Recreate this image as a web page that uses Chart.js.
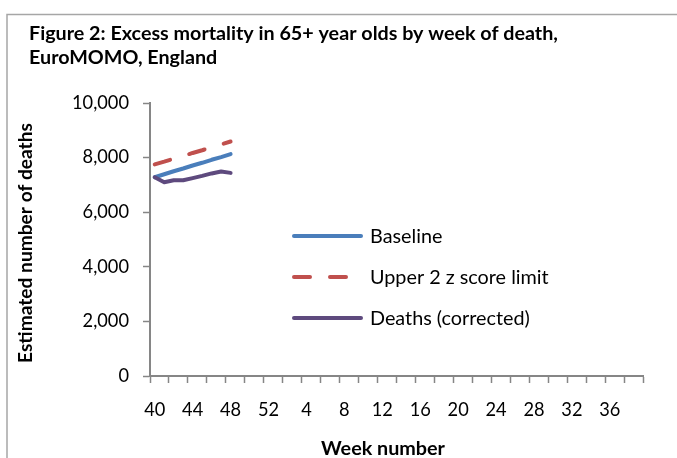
<!DOCTYPE html>
<html>
<head>
<meta charset="utf-8">
<script src="https://cdn.jsdelivr.net/npm/chart.js@4/dist/chart.umd.min.js"></script>
<style>
  html, body { margin: 0; padding: 0; background: #ffffff; }
  #wrap { width: 677px; height: 458px; }
</style>
</head>
<body>
<div id="wrap"><canvas id="c" width="677" height="458"></canvas></div>
<script>
// ---- Data ----
const weeks = [40,41,42,43,44,45,46,47,48,49,50,51,52,
  1,2,3,4,5,6,7,8,9,10,11,12,13,14,15,16,17,18,19,20,
  21,22,23,24,25,26,27,28,29,30,31,32,33,34,35,36,37,38,39];
const baseline = [7280, 7390, 7500, 7600, 7710, 7810, 7920, 8020, 8130];
const upperLimit = [7750, 7850, 7960, 8060, 8170, 8270, 8380, 8480, 8590];
const deaths = [7280, 7100, 7170, 7170, 7250, 7330, 7420, 7490, 7440];
const yTicks = [0, 2000, 4000, 6000, 8000, 10000];
const seriesNames = ['Baseline', 'Upper 2 z score limit', 'Deaths (corrected)'];
const titleLines = ['Figure 2: Excess mortality in 65+ year olds by week of death,', 'EuroMOMO, England'];
const xTitle = 'Week number';
const yTitle = 'Estimated number of deaths';

// ---- Styles ----
const FAM = 'Lato, "Open Sans", sans-serif';
const AX = '#868686';
const COLORS = ['#4A7EBB', '#C0504D', '#5E4A7E'];

const mctx = document.createElement('canvas').getContext('2d');
function fitSize(text, weight, target) {
  mctx.font = weight + ' 20px ' + FAM;
  const w = mctx.measureText(text).width;
  return 20 * target / w;
}
const tickSize = fitSize('10,000', 'normal', 57);
const titleSize = fitSize(titleLines[0], 'bold', 529);
const xTitleSize = fitSize(xTitle, 'bold', 124);
const yTitleSize = fitSize(yTitle, 'bold', 240);
const legendSize = fitSize(seriesNames[2], 'normal', 160);

const decor = {
  id: 'decor',
  beforeDraw(chart) {
    const ctx = chart.ctx;
    ctx.save();
    ctx.fillStyle = '#ffffff';
    ctx.fillRect(0, 0, chart.width, chart.height);
    ctx.strokeStyle = '#a6a6a6';
    ctx.lineWidth = 1.5;
    ctx.beginPath();
    ctx.moveTo(7, 460);
    ctx.lineTo(7, 14.5);
    ctx.lineTo(680, 14.5);
    ctx.stroke();
    ctx.restore();
  },
  afterDraw(chart) {
    const ctx = chart.ctx;
    const a = chart.chartArea;
    ctx.save();
    ctx.fillStyle = '#000';
    // main title
    ctx.textAlign = 'left';
    ctx.textBaseline = 'alphabetic';
    ctx.font = 'bold ' + titleSize + 'px ' + FAM;
    ctx.fillText(titleLines[0], 29, 40);
    ctx.fillText(titleLines[1], 29, 64);
    // x title
    ctx.textAlign = 'center';
    ctx.font = 'bold ' + xTitleSize + 'px ' + FAM;
    ctx.fillText(xTitle, 383, 455);
    // y title
    ctx.save();
    ctx.translate(26, 243);
    ctx.rotate(-Math.PI / 2);
    ctx.textBaseline = 'middle';
    ctx.font = 'bold ' + yTitleSize + 'px ' + FAM;
    ctx.fillText(yTitle, 0, 0);
    ctx.restore();
    // legend
    const rows = [236, 277, 318];
    chart.data.datasets.forEach((ds, i) => {
      const y = rows[i];
      ctx.save();
      ctx.strokeStyle = ds.borderColor;
      ctx.lineWidth = 4;
      ctx.lineCap = 'round';
      ctx.setLineDash(ds.borderDash || []);
      ctx.beginPath();
      ctx.moveTo(294, y);
      ctx.lineTo(361, y);
      ctx.stroke();
      ctx.restore();
      ctx.textAlign = 'left';
      ctx.textBaseline = 'middle';
      ctx.font = legendSize + 'px ' + FAM;
      ctx.fillStyle = '#000';
      ctx.fillText(ds.label, 370, y + 1);
    });
    ctx.restore();
  }
};

new Chart(document.getElementById('c'), {
  type: 'line',
  data: {
    labels: weeks,
    datasets: [
      { label: seriesNames[0], data: baseline, borderColor: COLORS[0], borderWidth: 4, order: 2 },
      { label: seriesNames[1], data: upperLimit, borderColor: COLORS[1], borderWidth: 4, borderDash: [16, 20], order: 1 },
      { label: seriesNames[2], data: deaths, borderColor: COLORS[2], borderWidth: 4, order: 0 }
    ]
  },
  options: {
    responsive: false,
    animation: false,
    devicePixelRatio: 1,
    elements: {
      point: { radius: 0, hoverRadius: 0 },
      line: { tension: 0, borderCapStyle: 'round', borderJoinStyle: 'round', fill: false }
    },
    layout: { padding: { left: 14, right: 34, top: 103, bottom: 0 } },
    plugins: { legend: { display: false }, tooltip: { enabled: false }, title: { display: false } },
    scales: {
      x: {
        type: 'category',
        offset: true,
        grid: {
          offset: true,
          drawOnChartArea: false,
          tickLength: 7,
          tickWidth: 1.5,
          tickColor: (c) => (c.index === undefined || c.index % 2 === 0) ? AX : 'rgba(0,0,0,0)'
        },
        border: { color: AX, width: 2 },
        ticks: {
          autoSkip: false,
          maxRotation: 0,
          minRotation: 0,
          padding: 16,
          color: '#000',
          font: { family: FAM, size: tickSize },
          callback: function (v, i) { return i % 4 === 0 ? String(this.getLabelForValue(v)) : ''; }
        },
        afterFit: (s) => { s.height = 82; }
      },
      y: {
        min: 0,
        max: 10000,
        afterBuildTicks: (s) => { s.ticks = yTicks.map(v => ({ value: v })); },
        grid: { drawOnChartArea: false, tickLength: 7, tickWidth: 1.5, tickColor: AX },
        border: { color: AX, width: 2 },
        ticks: {
          padding: 14,
          color: '#000',
          font: { family: FAM, size: tickSize },
          callback: (v) => Number(v).toLocaleString('en-US')
        },
        afterFit: (s) => { s.width = 136; }
      }
    }
  },
  plugins: [decor]
});
</script>
</body>
</html>
